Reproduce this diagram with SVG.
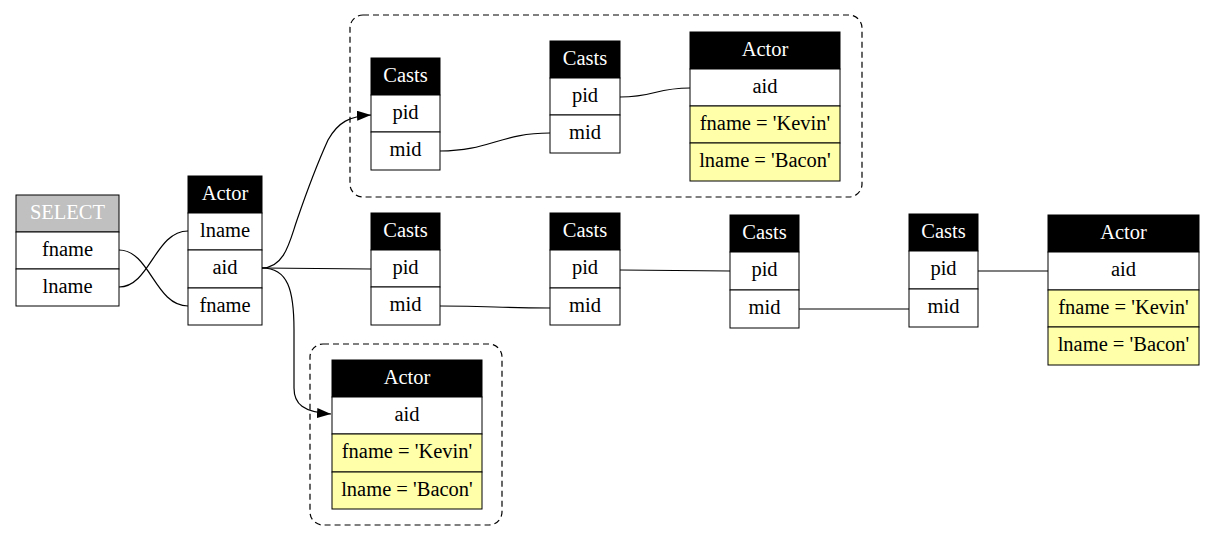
<svg xmlns="http://www.w3.org/2000/svg" width="1215" height="541" viewBox="0 0 1215 541">
<style>
text{font-family:'Liberation Serif','Times New Roman',Times,'DejaVu Serif',serif;font-size:20.5px;text-anchor:middle;fill:#000}
.h{fill:#000;stroke:#000}
.hg{fill:#c0c0c0;stroke:#000}
.c{fill:#fff;stroke:#000}
.y{fill:#ffffaa;stroke:#000}
text.ht{fill:#fff}
.e{fill:none;stroke:#000;stroke-width:1.2}
.cl{fill:none;stroke:#000;stroke-width:1.2;stroke-dasharray:6,4}
</style>
<defs>
<marker id="ar" markerUnits="userSpaceOnUse" markerWidth="14" markerHeight="10" refX="14" refY="5" orient="auto">
<path d="M0,0 L14,5 L0,10 z" fill="#000"/>
</marker>
</defs>
<rect x="0" y="0" width="1215" height="541" fill="#fff"/>
<g id="clusters">
<rect class="cl" x="350" y="15" width="512" height="182" rx="13"/>
<rect class="cl" x="310" y="344" width="192" height="181" rx="13"/>
</g>
<g id="select">
<rect class="hg" x="16" y="195" width="103" height="37"/><text class="ht" x="67.5" y="219">SELECT</text>
<rect class="c" x="16" y="232" width="103" height="37"/><text x="67.5" y="256">fname</text>
<rect class="c" x="16" y="269" width="103" height="37"/><text x="67.5" y="293">lname</text>
</g>
<g id="actor_l">
<rect class="h" x="188" y="176" width="74" height="37"/><text class="ht" x="225" y="200">Actor</text>
<rect class="c" x="188" y="213" width="74" height="37"/><text x="225" y="237">lname</text>
<rect class="c" x="188" y="250" width="74" height="38"/><text x="225" y="274">aid</text>
<rect class="c" x="188" y="288" width="74" height="37"/><text x="225" y="312">fname</text>
</g>
<g id="casts_t1">
<rect class="h" x="371" y="58" width="69" height="37"/><text class="ht" x="405.5" y="82">Casts</text>
<rect class="c" x="371" y="95" width="69" height="37"/><text x="405.5" y="119">pid</text>
<rect class="c" x="371" y="132" width="69" height="38"/><text x="405.5" y="156">mid</text>
</g>
<g id="casts_t2">
<rect class="h" x="550" y="41" width="70" height="37"/><text class="ht" x="585" y="65">Casts</text>
<rect class="c" x="550" y="78" width="70" height="37"/><text x="585" y="102">pid</text>
<rect class="c" x="550" y="115" width="70" height="38"/><text x="585" y="139">mid</text>
</g>
<g id="actor_t">
<rect class="h" x="690" y="32" width="150" height="37"/><text class="ht" x="765" y="56">Actor</text>
<rect class="c" x="690" y="69" width="150" height="37"/><text x="765" y="93">aid</text>
<rect class="y" x="690" y="106" width="150" height="37"/><text x="765" y="130">fname = 'Kevin'</text>
<rect class="y" x="690" y="143" width="150" height="38"/><text x="765" y="167">lname = 'Bacon'</text>
</g>
<g id="casts_m1">
<rect class="h" x="371" y="213" width="69" height="37"/><text class="ht" x="405.5" y="237">Casts</text>
<rect class="c" x="371" y="250" width="69" height="37"/><text x="405.5" y="274">pid</text>
<rect class="c" x="371" y="287" width="69" height="38"/><text x="405.5" y="311">mid</text>
</g>
<g id="casts_m2">
<rect class="h" x="550" y="213" width="70" height="37"/><text class="ht" x="585" y="237">Casts</text>
<rect class="c" x="550" y="250" width="70" height="38"/><text x="585" y="274">pid</text>
<rect class="c" x="550" y="288" width="70" height="37"/><text x="585" y="312">mid</text>
</g>
<g id="casts_m3">
<rect class="h" x="730" y="215" width="69" height="37"/><text class="ht" x="764.5" y="239">Casts</text>
<rect class="c" x="730" y="252" width="69" height="38"/><text x="764.5" y="276">pid</text>
<rect class="c" x="730" y="290" width="69" height="38"/><text x="764.5" y="314">mid</text>
</g>
<g id="casts_m4">
<rect class="h" x="909" y="214" width="69" height="37"/><text class="ht" x="943.5" y="238">Casts</text>
<rect class="c" x="909" y="251" width="69" height="38"/><text x="943.5" y="275">pid</text>
<rect class="c" x="909" y="289" width="69" height="38"/><text x="943.5" y="313">mid</text>
</g>
<g id="actor_m">
<rect class="h" x="1048" y="215" width="151" height="37"/><text class="ht" x="1123.5" y="239">Actor</text>
<rect class="c" x="1048" y="252" width="151" height="38"/><text x="1123.5" y="276">aid</text>
<rect class="y" x="1048" y="290" width="151" height="37"/><text x="1123.5" y="314">fname = 'Kevin'</text>
<rect class="y" x="1048" y="327" width="151" height="38"/><text x="1123.5" y="351">lname = 'Bacon'</text>
</g>
<g id="actor_b">
<rect class="h" x="332" y="360" width="150" height="37"/><text class="ht" x="407" y="384">Actor</text>
<rect class="c" x="332" y="397" width="150" height="37"/><text x="407" y="421">aid</text>
<rect class="y" x="332" y="434" width="150" height="38"/><text x="407" y="458">fname = 'Kevin'</text>
<rect class="y" x="332" y="472" width="150" height="37"/><text x="407" y="496">lname = 'Bacon'</text>
</g>
<g id="edges">
<path class="e" d="M119,250 C150,250 155,306 188,306"/>
<path class="e" d="M119,287 C150,287 155,231 188,231"/>
<path class="e" marker-end="url(#ar)" d="M262,268 C285,268 290,240 297,220 C308,188 318,162 328,140 C338,122 350,116 371,115"/>
<path class="e" d="M262,268 L371,269"/>
<path class="e" marker-end="url(#ar)" d="M262,268 C288,268 294,290 294,330 L294,388 C294,404 303,412 331,414"/>
<path class="e" d="M440,151 C490,151 500,133 550,133"/>
<path class="e" d="M620,97 C655,97 655,88 690,88"/>
<path class="e" d="M440,306 C495,306 495,308 550,308"/>
<path class="e" d="M620,270 L730,271"/>
<path class="e" d="M799,309 L909,309"/>
<path class="e" d="M978,271 L1048,271"/>
</g>
</svg>
